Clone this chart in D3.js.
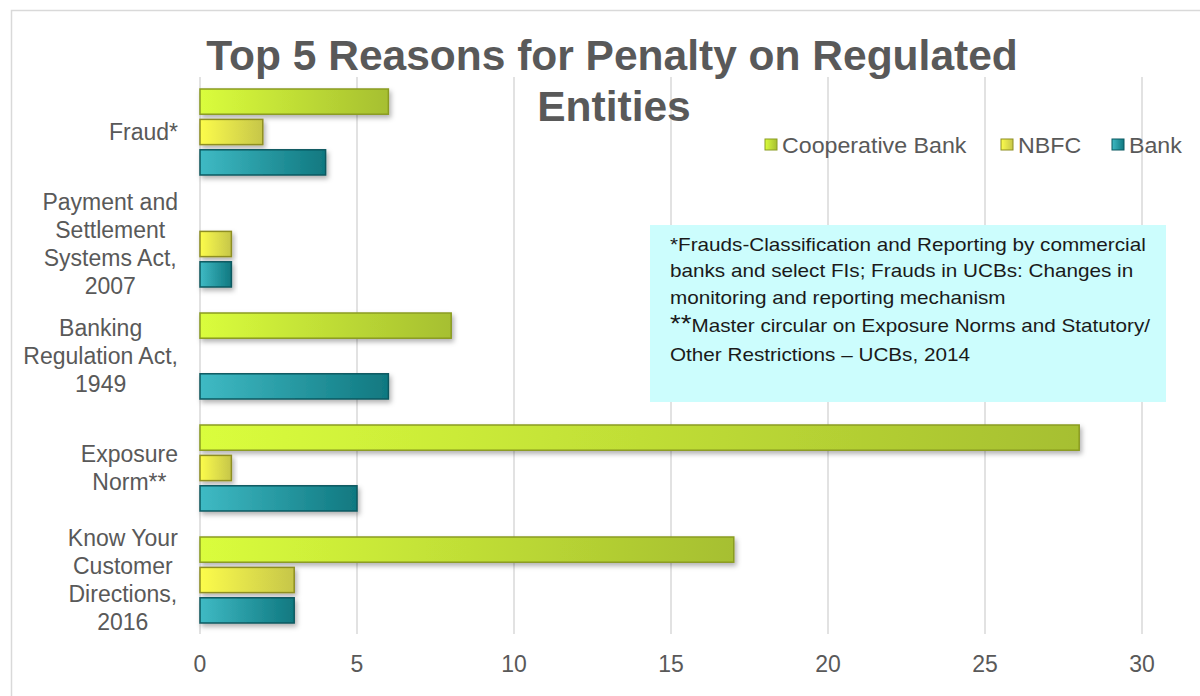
<!DOCTYPE html>
<html>
<head>
<meta charset="utf-8">
<script src="https://cdn.jsdelivr.net/npm/d3@7"></script>
<style>
  html, body { margin: 0; padding: 0; background: #fff; }
  svg text { font-family: "Liberation Sans", Arial, sans-serif; }
</style>
</head>
<body>
<svg id="chart" width="1200" height="696"></svg>
<script>
// ─── Data ─────────────────────────────────────────────────────────────────────

const categories = [
  ['Fraud*'],
  ['Payment and', 'Settlement', 'Systems Act,', '2007'],
  ['Banking', 'Regulation Act,', '1949'],
  ['Exposure', 'Norm**'],
  ['Know Your', 'Customer', 'Directions,', '2016'],
];
const seriesNames = ['Cooperative Bank', 'NBFC', 'Bank'];
const cooperativeBank = [6, 0, 8, 28, 17];
const nbfc = [2, 1, 0, 1, 3];
const bank = [4, 1, 6, 5, 3];
const xTicks = [0, 5, 10, 15, 20, 25, 30];

const noteLines = [
  '*Frauds-Classification and Reporting by commercial',
  'banks and select FIs; Frauds in UCBs: Changes in',
  'monitoring and reporting mechanism',
];
const noteLines2 = ['Master circular on Exposure Norms and Statutory/', 'Other Restrictions – UCBs, 2014'];

// colours: [left, right, stroke]
const palette = {
  'Cooperative Bank': ['#dafd3c', '#a6bf30', '#8a9c22'],
  'NBFC': ['#fcfc4c', '#c6c64a', '#8e8e22'],
  'Bank': ['#3fbac4', '#107880', '#0b5960'],
};

// ─── Setup ────────────────────────────────────────────────────────────────────

const svg = d3.select('#chart');

// stretch text horizontally around its left edge
function stretch(sel, x0, k) {
  sel.attr('transform', `translate(${x0},0) scale(${k},1) translate(${-x0},0)`);
}

// outer frame
svg.append('rect')
  .attr('x', 11.5).attr('y', 10.5)
  .attr('width', 1200).attr('height', 700)
  .attr('fill', 'none').attr('stroke', '#d9d9d9').attr('stroke-width', 1.5);

const defs = svg.append('defs');
seriesNames.forEach((s, i) => {
  const g = defs.append('linearGradient').attr('id', 'grad' + i)
    .attr('x1', 0).attr('y1', 0).attr('x2', 1).attr('y2', 0);
  g.append('stop').attr('offset', '0%').attr('stop-color', palette[s][0]);
  g.append('stop').attr('offset', '100%').attr('stop-color', palette[s][1]);
});
const shadow = defs.append('filter').attr('id', 'shadow')
  .attr('x', '-10%').attr('y', '-30%').attr('width', '130%').attr('height', '180%');
shadow.append('feDropShadow')
  .attr('dx', 2).attr('dy', 3).attr('stdDeviation', 2.5)
  .attr('flood-color', '#000').attr('flood-opacity', 0.3);

const x = d3.scaleLinear().domain([0, 30]).range([200, 1142]);
const y0 = d3.scaleBand().domain(d3.range(categories.length)).range([76, 636]);
const y1 = d3.scaleBand().domain(seriesNames).range([13, 99]).paddingInner(0.17);

// gridlines
svg.append('g').selectAll('line').data(xTicks).join('line')
  .attr('x1', d => x(d)).attr('x2', d => x(d))
  .attr('y1', 77).attr('y2', 634)
  .attr('stroke', '#d9d9d9').attr('stroke-width', 1.5);

// tick labels
svg.append('g').selectAll('text').data(xTicks).join('text')
  .attr('x', d => x(d)).attr('y', 672)
  .attr('text-anchor', 'middle')
  .attr('font-size', 23).attr('fill', '#595959')
  .text(d => d);

// text box
svg.append('rect')
  .attr('x', 650).attr('y', 225).attr('width', 516).attr('height', 177)
  .attr('fill', '#ccfdfd');
const note = svg.append('g').attr('fill', '#1a1a1a');
noteLines.forEach((t, i) => {
  note.append('text').attr('x', 670).attr('y', 251 + i * 26.5)
    .attr('font-size', 18).text(t);
});
const l4 = note.append('text').attr('x', 670).attr('y', 332).attr('font-size', 18);
l4.append('tspan').attr('font-size', 24).text('**');
l4.append('tspan').text(noteLines2[0]);
note.append('text').attr('x', 670).attr('y', 361).attr('font-size', 18).text(noteLines2[1]);
stretch(note, 670, 1.15);

// bars
const seriesData = [cooperativeBank, nbfc, bank];
const groups = svg.append('g').selectAll('g').data(categories).join('g')
  .attr('transform', (d, i) => `translate(0,${y0(i)})`);

groups.each(function (c, i) {
  const gg = d3.select(this);
  seriesNames.forEach((s, j) => {
    const v = seriesData[j][i];
    if (!v) return;
    gg.append('rect')
      .attr('x', x(0)).attr('y', y1(s))
      .attr('width', x(v) - x(0)).attr('height', y1.bandwidth())
      .attr('fill', `url(#grad${j})`)
      .attr('stroke', palette[s][2]).attr('stroke-width', 1.5)
      .attr('filter', 'url(#shadow)');
  });
});

// category labels (centred block, right edge at 178)
groups.each(function (lines) {
  const t = d3.select(this).append('text')
    .attr('text-anchor', 'middle')
    .attr('font-size', 23).attr('fill', '#595959');
  const lh = 28;
  const mid = y0.bandwidth() / 2;
  const top = mid - (lines.length - 1) * lh / 2 + 8;
  lines.forEach((ln, k) => {
    t.append('tspan').attr('x', 0).attr('y', top + k * lh).text(ln);
  });
  const w = t.node().getBBox().width;
  t.selectAll('tspan').attr('x', 178 - w / 2);
});

// title
const title = svg.append('text')
  .attr('text-anchor', 'middle')
  .attr('font-size', 42.5).attr('font-weight', 'bold').attr('fill', '#595959');
title.append('tspan').attr('x', 612).attr('y', 70).text('Top 5 Reasons for Penalty on Regulated');
title.append('tspan').attr('x', 614).attr('y', 121).text('Entities');

// legend
const legendPos = [765, 1001, 1112];
const legend = svg.append('g');
seriesNames.forEach((s, j) => {
  legend.append('rect')
    .attr('x', legendPos[j]).attr('y', 139).attr('width', 12).attr('height', 11)
    .attr('fill', `url(#grad${j})`).attr('stroke', palette[s][2]).attr('stroke-width', 1);
  const t = legend.append('text')
    .attr('x', legendPos[j] + 17).attr('y', 153)
    .attr('font-size', 21.5).attr('fill', '#595959')
    .text(s);
  stretch(t, legendPos[j] + 17, 1.08);
});
</script>
</body>
</html>
